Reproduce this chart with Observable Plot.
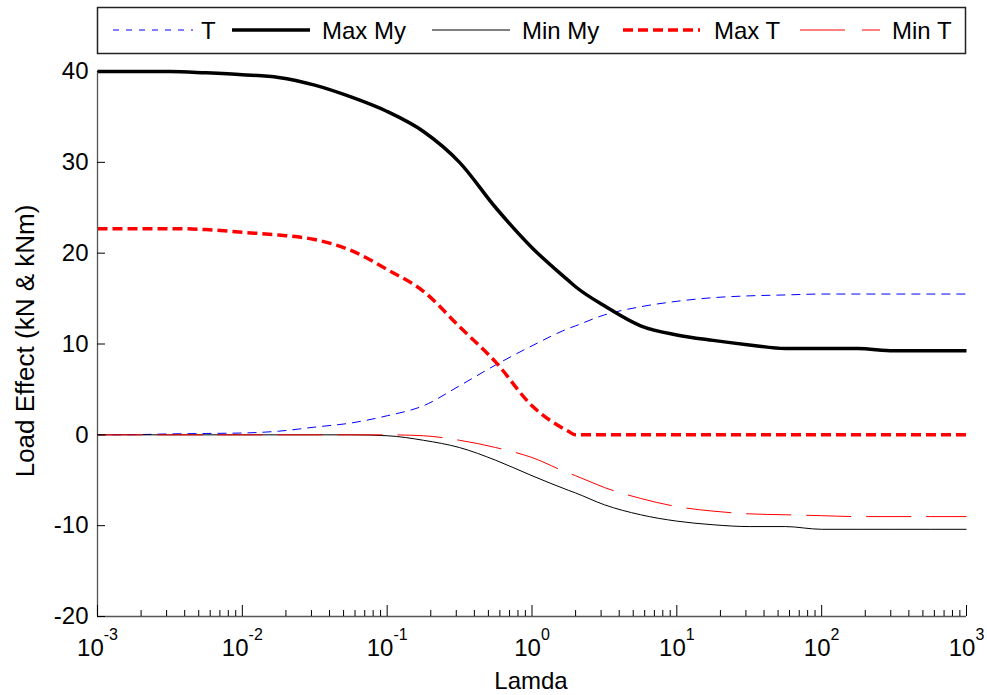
<!DOCTYPE html>
<html>
<head>
<meta charset="utf-8">
<script src="https://cdn.jsdelivr.net/npm/d3@7"></script>
<script src="https://cdn.jsdelivr.net/npm/@observablehq/plot@0.6"></script>
<style>
  body { margin: 0; background: #fff; font-family: "Liberation Sans", Arial, sans-serif; }
  #wrap { position: relative; width: 987px; height: 695px; }
  #legend { position: absolute; left: 0; top: 0; }
</style>
</head>
<body>
<div id="wrap"></div>
<script>
// ---- data ----
const lamda = [0.001, 0.00178, 0.00316, 0.00562, 0.01, 0.0178, 0.0316, 0.0562, 0.1, 0.178, 0.316, 0.562,
               1, 1.78, 2, 3.16, 5.62, 10, 17.8, 31.6, 56.2, 100, 178, 316, 562, 1000];
const T     = [0, 0.02, 0.1, 0.15, 0.2, 0.4, 0.85, 1.3, 2.1, 3.2, 5.4, 7.7,
               9.8, 11.7, 12.0, 13.2, 14.1, 14.7, 15.1, 15.3, 15.4, 15.5, 15.5, 15.5, 15.5, 15.5];
const maxMy = [40, 40, 40, 39.85, 39.65, 39.35, 38.5, 37.2, 35.6, 33.4, 30.0, 25.0,
               20.6, 17.0, 16.3, 14.2, 12.0, 11.0, 10.4, 9.9, 9.5, 9.5, 9.5, 9.25, 9.25, 9.25];
const minMy = [0, 0, 0, 0, 0, 0, 0, 0, -0.1, -0.6, -1.4, -2.8,
               -4.5, -6.1, -6.4, -7.7, -8.8, -9.5, -9.9, -10.1, -10.1, -10.4, -10.4, -10.4, -10.4, -10.4];
const maxT  = [22.7, 22.7, 22.7, 22.6, 22.3, 22.0, 21.5, 20.3, 18.2, 15.8, 11.9, 8.0,
               3.2, 0.4, 0, 0, 0, 0, 0, 0, 0, 0, 0, 0, 0, 0];
const minT  = [0, 0, 0, 0, 0, 0, 0, 0, 0, -0.1, -0.6, -1.4,
               -2.5, -4.2, -4.5, -5.8, -7.0, -7.9, -8.4, -8.7, -8.8, -8.9, -9.0, -9.0, -9.0, -9.0];

const seriesNames = ["T", "Max My", "Min My", "Max T", "Min T"];
const seriesValues = [T, maxMy, minMy, maxT, minT];

const yTicks = [-20, -10, 0, 10, 20, 30, 40];
const xTicks = [1e-3, 1e-2, 1e-1, 1e0, 1e1, 1e2, 1e3];
const xLabel = "Lamda";
const yLabel = "Load Effect (kN & kNm)";

// ---- styles ----
const styles = [
  {stroke: "#0000ff", strokeWidth: 1,   dash: "9,6",   legendDash: "6,7"},
  {stroke: "#000000", strokeWidth: 3.5, dash: null,    legendDash: null},
  {stroke: "#000000", strokeWidth: 1,   dash: null,    legendDash: null},
  {stroke: "#ff0000", strokeWidth: 3.5, dash: "10,5",  legendDash: "10,5"},
  {stroke: "#ff0000", strokeWidth: 1,   dash: "45,15", legendDash: "45,17"}
];

// minor ticks of the log axis
const xMinor = [];
for (let e = -3; e < 3; e++) for (let m = 2; m <= 9; m++) xMinor.push(m * Math.pow(10, e));

const lines = seriesValues.map((vals, k) => {
  const rows = lamda.map((x, i) => ({x, y: vals[i]}));
  return Plot.line(rows, {
    x: "x", y: "y",
    curve: "monotone-x",
    stroke: styles[k].stroke,
    strokeWidth: styles[k].strokeWidth,
    strokeDasharray: styles[k].dash,
    strokeLinejoin: "round",
    strokeLinecap: "butt"
  });
});

const chart = Plot.plot({
  width: 987, height: 695,
  marginLeft: 97, marginRight: 21, marginTop: 71, marginBottom: 79,
  style: {fontFamily: '"Liberation Sans", Arial, sans-serif', fontSize: "24px", color: "#000", background: "#fff", overflow: "visible"},
  x: {type: "log", domain: [1e-3, 1e3]},
  y: {domain: [-20, 40]},
  marks: [
    ...lines,
    Plot.ruleY([-20], {stroke: "#555", strokeWidth: 1.3}),
    Plot.ruleX([1e-3], {stroke: "#555", strokeWidth: 1.3}),
    Plot.axisY({ticks: yTicks, tickSize: -8, tickPadding: 17, tickFormat: d => String(d), label: null, fontSize: 24}),
    Plot.axisX({ticks: xTicks, tickSize: -11, tickPadding: 33, tickFormat: d => "10^" + Math.round(Math.log10(d)), label: null, fontSize: 24}),
    Plot.axisX({ticks: xMinor, tickSize: -6, tickFormat: () => "", label: null})
  ]
});

const wrap = document.getElementById("wrap");
wrap.appendChild(chart);

const svg = d3.select(chart.tagName.toLowerCase() === "svg" ? chart : chart.querySelector("svg"));

// superscript tick labels
svg.selectAll('g[aria-label="x-axis tick label"] text').each(function() {
  const t = this.textContent;
  if (!t.includes("^")) return;
  const [base, exp] = t.split("^");
  const el = d3.select(this);
  el.text(null);
  el.append("tspan").text(base);
  el.append("tspan").attr("dy", -16).attr("font-size", 16).text(exp);
});

// axis titles
svg.append("text")
  .attr("x", 531).attr("y", 689)
  .attr("text-anchor", "middle")
  .attr("font-size", 24)
  .attr("fill", "#000")
  .text(xLabel);
svg.append("text")
  .attr("transform", "translate(34,341) rotate(-90)")
  .attr("text-anchor", "middle")
  .attr("font-size", 26)
  .attr("fill", "#000")
  .text(yLabel);

// legend
const legendItems = [
  {line: [113, 193], text: 201},
  {line: [232, 310], text: 322},
  {line: [432, 510], text: 522},
  {line: [623, 700], text: 714},
  {line: [800, 880], text: 892}
];
const lg = d3.select(wrap).append("svg")
  .attr("id", "legend")
  .attr("width", 987).attr("height", 60)
  .style("font-family", '"Liberation Sans", Arial, sans-serif');
lg.append("rect")
  .attr("x", 97.5).attr("y", 7.5).attr("width", 868).attr("height", 46)
  .attr("fill", "#fff").attr("stroke", "#222").attr("stroke-width", 1.5);
seriesNames.forEach((name, k) => {
  const it = legendItems[k], st = styles[k];
  lg.append("line")
    .attr("x1", it.line[0]).attr("x2", it.line[1])
    .attr("y1", 30).attr("y2", 30)
    .attr("stroke", st.stroke).attr("stroke-width", st.strokeWidth)
    .attr("stroke-dasharray", st.legendDash);
  lg.append("text")
    .attr("x", it.text).attr("y", 39)
    .attr("font-size", 24).attr("fill", "#000")
    .text(name);
});
</script>
</body>
</html>
